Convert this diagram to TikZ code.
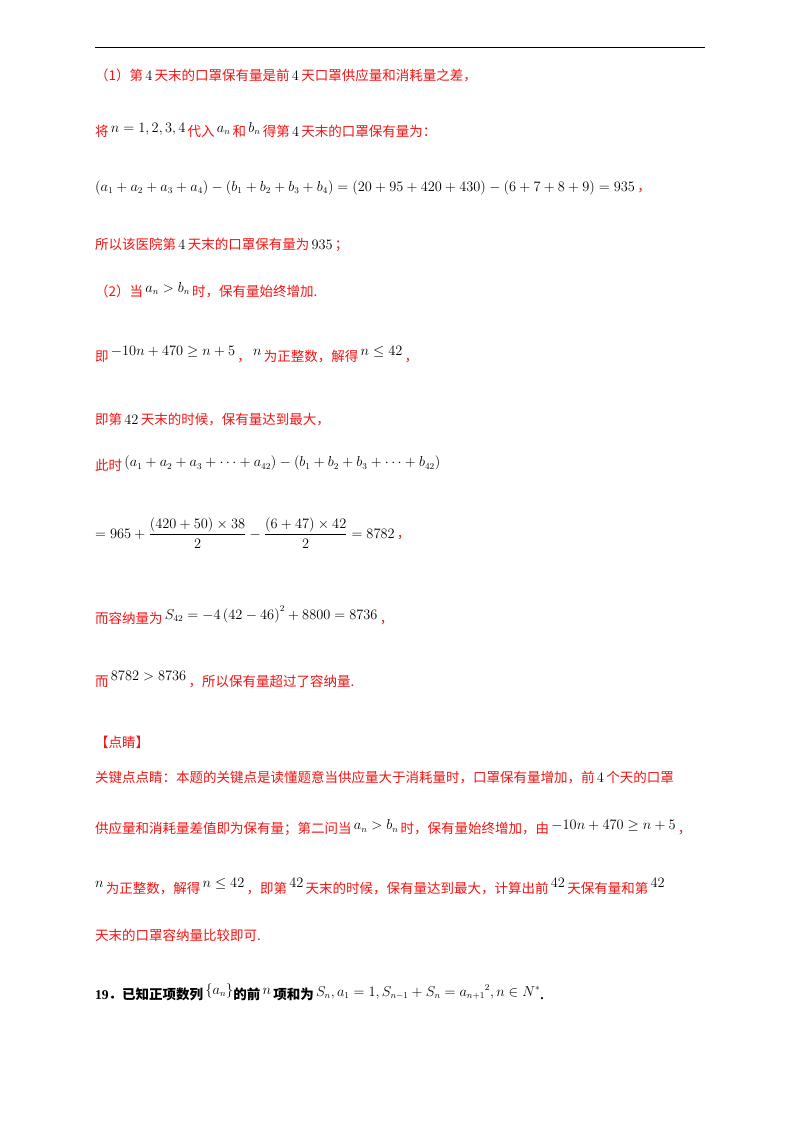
\documentclass[tikz,border=0pt]{standalone}
\usepackage{amsmath,amssymb}
\usepackage{fontspec}
\setmainfont{Liberation Serif}
\newfontfamily\cjk{Noto Sans CJK SC}
\definecolor{rd}{RGB}{240,20,20}
\newcommand{\zh}[1]{\textcolor{rd}{\cjk #1}}
\newcommand{\mm}[1]{\textcolor{black}{\,$#1$\,}}
\begin{document}
\begin{tikzpicture}[x=1pt,y=-1pt,
  ln/.style={anchor=west,inner sep=0pt,font=\fontsize{13.5}{16}\selectfont}]
\useasboundingbox (0,0) rectangle (800,1132);
\fill[white] (0,0) rectangle (800,1132);
\draw[line width=1pt] (95,48) -- (705,48);
\node[ln] (l1) at (95,75) {\zh{（1）第}\mm{4}\zh{天末的口罩保有量是前}\mm{4}\zh{天口罩供应量和消耗量之差，}};
\node[ln] (l2) at (95,130) {\zh{将}\raisebox{4pt}{\mm{n=1,2,3,4}}\zh{代入}\raisebox{4pt}{\mm{a_n}}\zh{和}\raisebox{4pt}{\mm{b_n}}\zh{得第}\mm{4}\zh{天末的口罩保有量为：}};
\node[ln] (l3) at (95,188) {$\left(a_1+a_2+a_3+a_4\right)-\left(b_1+b_2+b_3+b_4\right)=\left(20+95+420+430\right)-\left(6+7+8+9\right)=935$\,\zh{，}};
\node[ln] (l4) at (95,245) {\zh{所以该医院第}\mm{4}\zh{天末的口罩保有量为}\mm{935}\zh{；}};
\node[ln] (l5) at (95,290) {\zh{（2）当}\raisebox{4pt}{\mm{a_n>b_n}}\zh{时，保有量始终增加.}};
\node[ln] (l6) at (95,355) {\zh{即}\raisebox{6pt}{\mm{-10n+470\geq n+5}}\zh{，}\raisebox{6pt}{\mm{n}}\zh{为正整数，解得}\raisebox{6pt}{\mm{n\leq 42}}\zh{，}};
\node[ln] (l7) at (95,420) {\zh{即第}\mm{42}\zh{天末的时候，保有量达到最大，}};
\node[ln] (l8) at (95,464) {\zh{此时}\raisebox{4pt}{\mm{\left(a_1+a_2+a_3+\cdots+a_{42}\right)-\left(b_1+b_2+b_3+\cdots+b_{42}\right)}}};
\node[ln] (l9) at (95,533) {$=965+\dfrac{(420+50)\times 38}{2}-\dfrac{(6+47)\times 42}{2}=8782$\,\zh{，}};
\node[ln] (l10) at (95,615) {\zh{而容纳量为}\raisebox{4pt}{\mm{S_{42}=-4\left(42-46\right)^2+8800=8736}}\zh{，}};
\node[ln] (l11) at (95,680) {\zh{而}\raisebox{6pt}{\mm{8782>8736}}\zh{，所以保有量超过了容纳量.}};
\node[ln] (l12) at (95,742) {\zh{【点睛】}};
\node[ln] (l13) at (95,777) {\zh{关键点点睛：本题的关键点是读懂题意当供应量大于消耗量时，口罩保有量增加，前}\mm{4}\zh{个天的口罩}};
\node[ln] (l14) at (95,828) {\zh{供应量和消耗量差值即为保有量；第二问当}\raisebox{4pt}{\mm{a_n>b_n}}\zh{时，保有量始终增加，由}\raisebox{4pt}{\mm{-10n+470\geq n+5}}\zh{，}};
\node[ln] (l15) at (95,887) {\raisebox{6pt}{$n$\,}\zh{为正整数，解得}\raisebox{6pt}{\mm{n\leq 42}}\zh{，即第}\raisebox{6pt}{\mm{42}}\zh{天末的时候，保有量达到最大，计算出前}\raisebox{6pt}{\mm{42}}\zh{天保有量和第}\raisebox{6pt}{\mm{42}}};
\node[ln] (l16) at (95,935) {\zh{天末的口罩容纳量比较即可.}};
\node[ln] (l17) at (95,992) {\textbf{19}{\cjk\bfseries ．已知正项数列}\raisebox{5pt}{\,$\left\{a_n\right\}$}{\cjk\bfseries 的前}\raisebox{5pt}{\,$n$\,}{\cjk\bfseries 项和为}\raisebox{3pt}{\,$S_n,a_1=1,S_{n-1}+S_n={a_{n+1}}^2,n\in N^*$}\textbf{.}};
\end{tikzpicture}
\end{document}
